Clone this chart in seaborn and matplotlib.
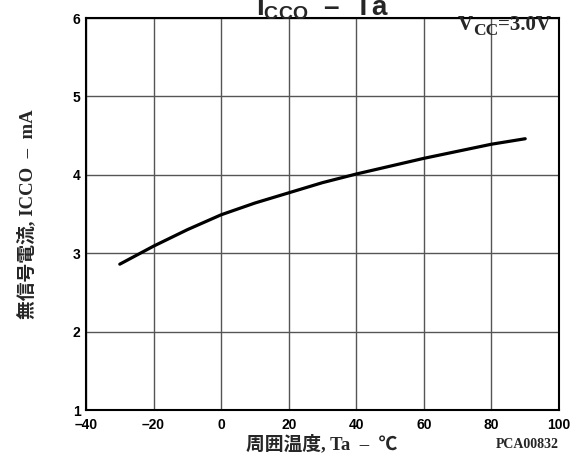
import matplotlib
matplotlib.use("Agg")
import matplotlib.pyplot as plt
import seaborn as sns
import pandas as pd

temps = [-30, -20, -10, 0, 10, 20, 30, 40, 50, 60, 70, 80, 90]
icco = [2.86, 3.09, 3.30, 3.49, 3.64, 3.77, 3.90, 4.01, 4.11, 4.21, 4.30, 4.39, 4.46]
xticks = [-40, -20, 0, 20, 40, 60, 80, 100]
yticks = [1, 2, 3, 4, 5, 6]

sns.set_theme(style="white")
plt.rcParams['font.family'] = ['Liberation Sans', 'Noto Sans CJK JP']
plt.rcParams['mathtext.fontset'] = 'custom'
plt.rcParams['mathtext.rm'] = 'Liberation Sans:bold'
plt.rcParams['mathtext.bf'] = 'Liberation Sans:bold'

fig = plt.figure(figsize=(5.8, 4.59), dpi=100)
ax = fig.add_axes([86/580, 1-410/459, (559-86)/580, (410-18)/459])

df = pd.DataFrame({"T": temps, "I": icco})
sns.lineplot(data=df, x="T", y="I", ax=ax, color="black", linewidth=2.3)

ax.set_xlim(-40, 100)
ax.set_ylim(1, 6)
ax.set_xticks(xticks)
ax.set_yticks(yticks)
ax.set_xticklabels([str(t).replace('-', '\u2013') for t in xticks], fontweight='bold', fontsize=10)
ax.set_yticklabels([str(t) for t in yticks], fontweight='bold', fontsize=10)
ax.tick_params(axis='x', length=0, pad=6, colors='black')
ax.tick_params(axis='y', length=0, pad=4, colors='black')
ax.grid(True, color='#555555', linewidth=1)
for s in ax.spines.values():
    s.set_color('black')
    s.set_linewidth(1.5)
ax.set_xlabel("")
ax.set_ylabel("")

serif = ['Liberation Serif', 'Noto Sans CJK JP']
fig.text(322/580, 1-15/459, r'$\mathbf{I}_{\mathbf{CCO}}$' + '  \u2013  Ta', ha='center', va='baseline',
         fontsize=20, fontweight='bold')
fig.text(27/580, 1-214/459, '無信号電流, ICCO  \u2013  mA', rotation=90, ha='center', va='center',
         fontsize=13.5, fontweight='bold', family=serif)
fig.text(322/580, 1-444/459, '周囲温度, Ta  \u2013  ℃', ha='center', va='center',
         fontsize=13.5, fontweight='bold', family=serif)
fig.text(527/580, 1-445/459, 'PCA00832', ha='center', va='center',
         fontsize=10, fontweight='bold', family=serif)

# V_CC=3.0V label built from pieces
fig.canvas.draw()
renderer = fig.canvas.get_renderer()
pieces = [('V', 15, 0), ('CC', 12.5, -5), ('=3.0V', 15, 0)]
x0 = 458
for txt, fs, dy in pieces:
    t = fig.text(x0/580, (459-30+dy)/459, txt, ha='left', va='baseline', fontsize=fs,
                 fontweight='bold', family=serif)
    bb = t.get_window_extent(renderer)
    x0 += bb.width

fig.savefig("out.png", dpi=100)
